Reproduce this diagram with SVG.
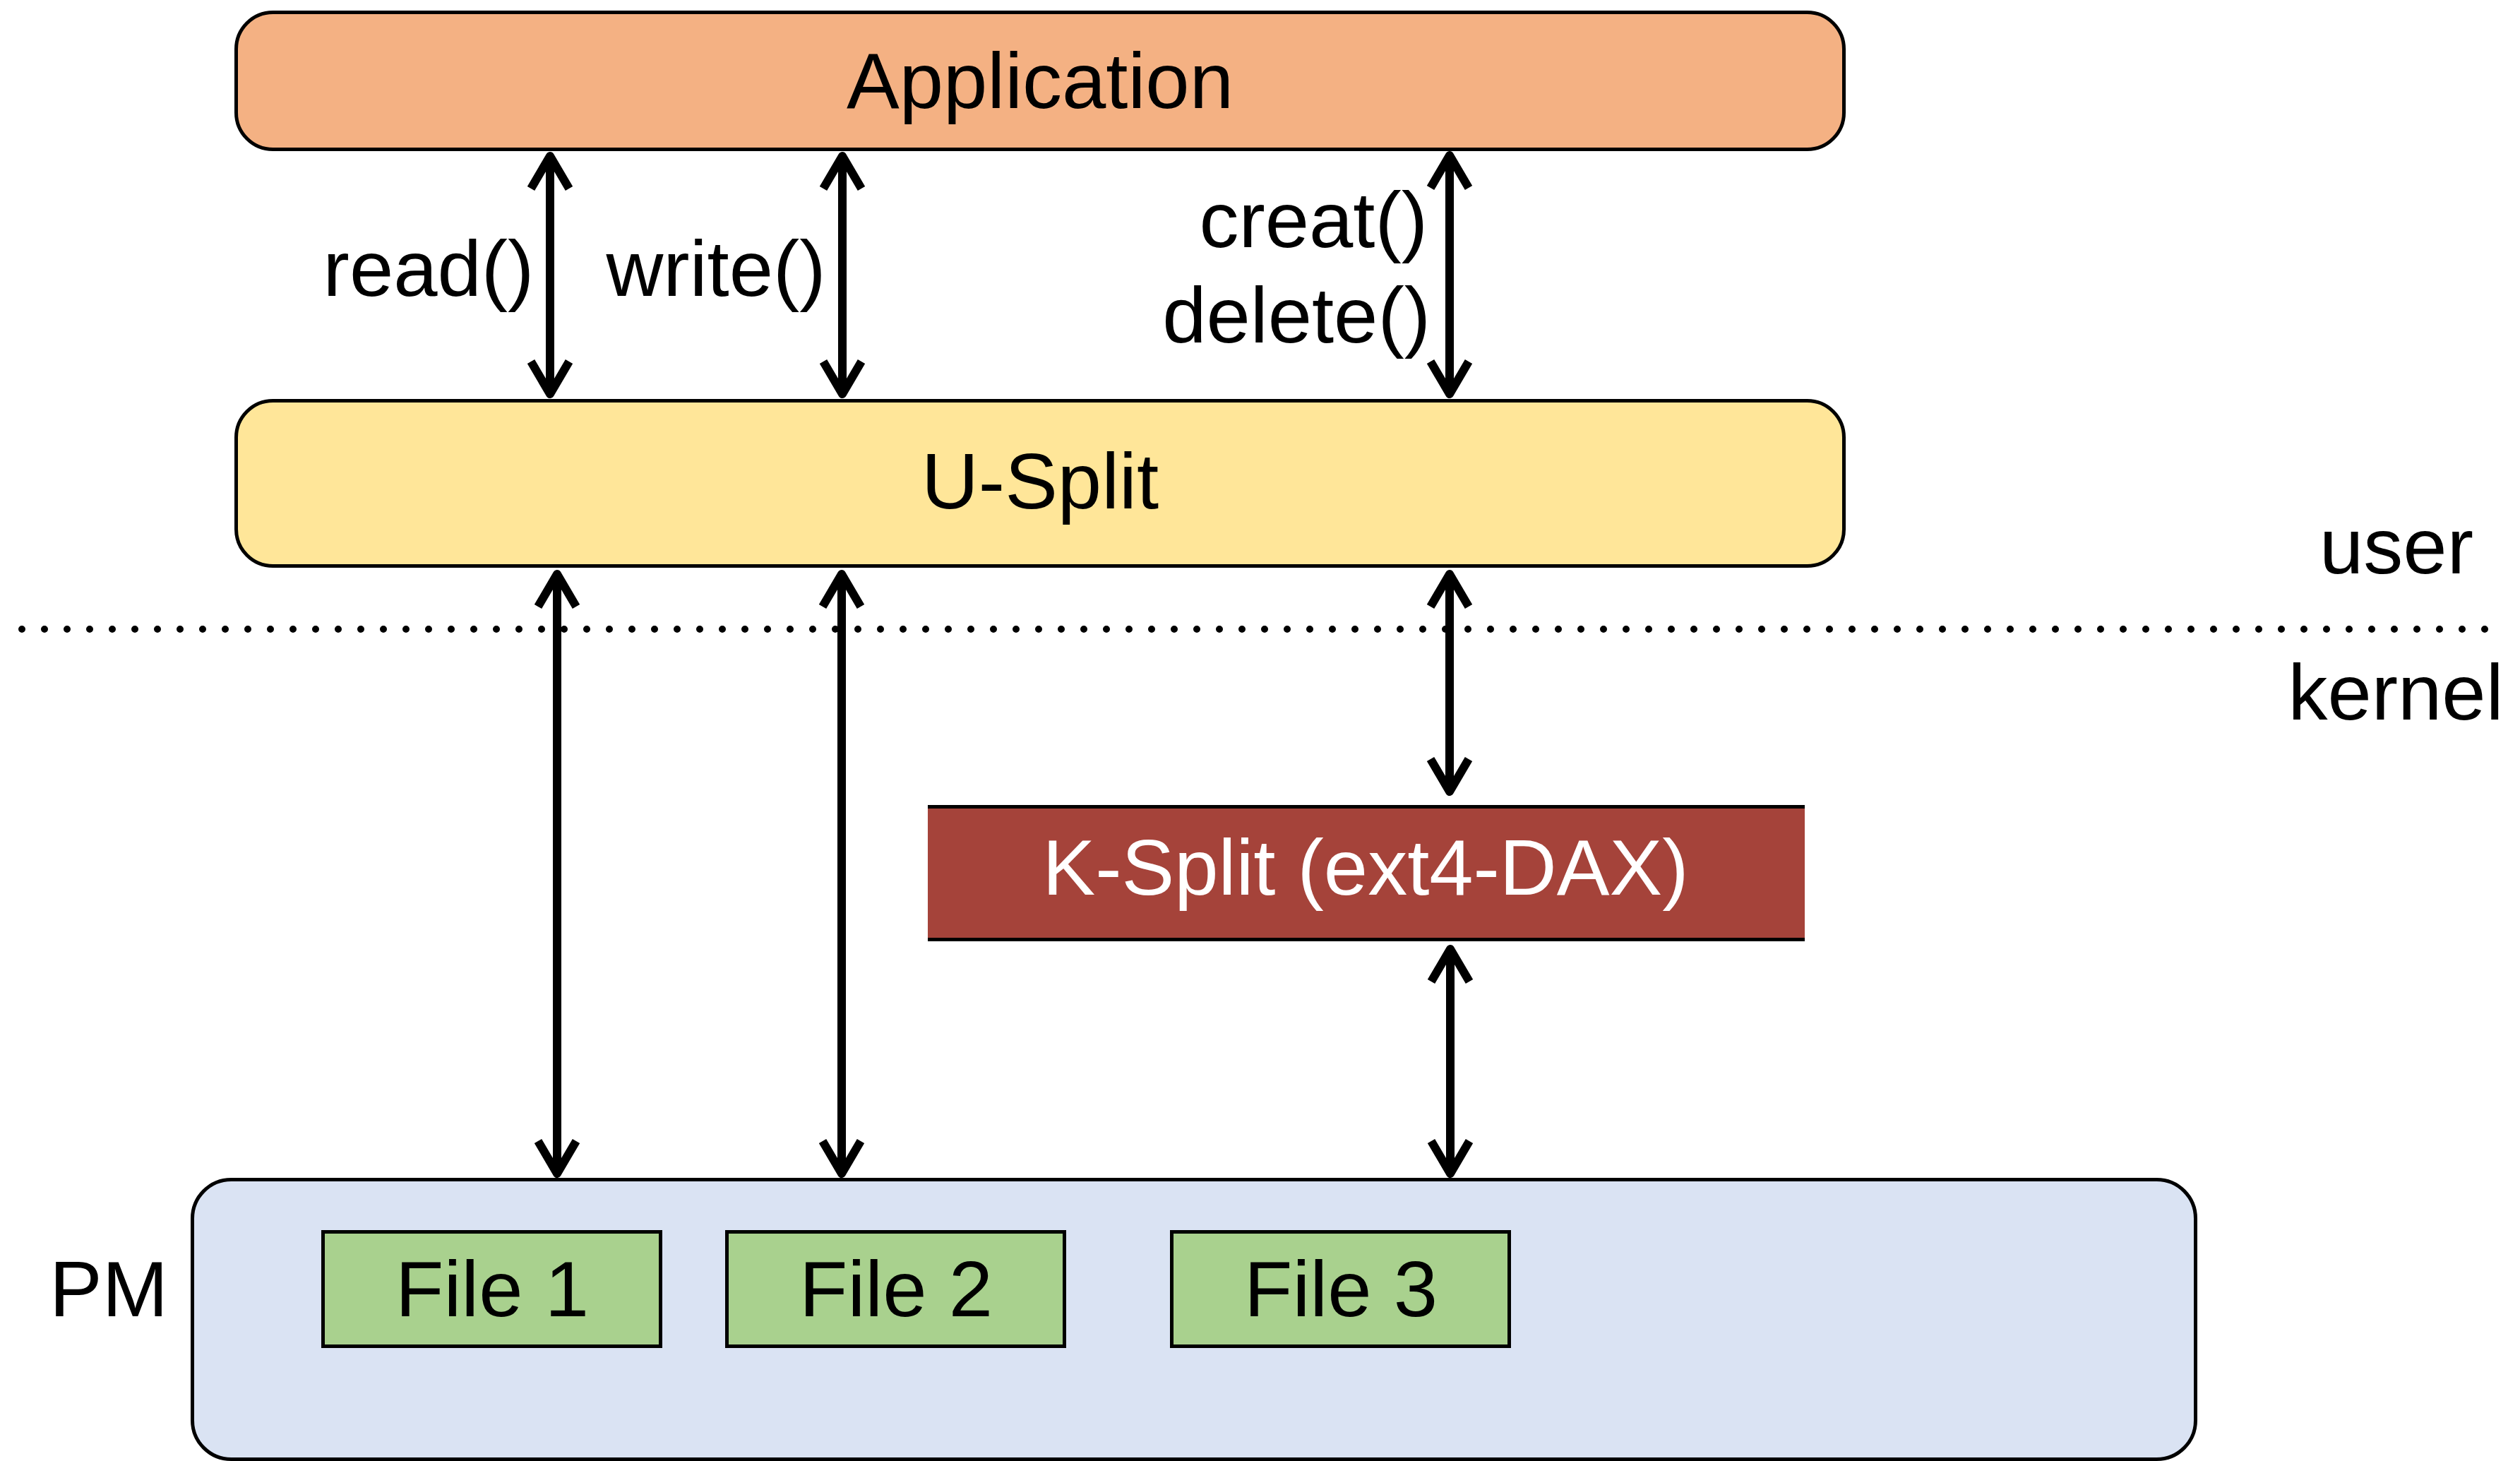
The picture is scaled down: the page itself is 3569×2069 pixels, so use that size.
<svg xmlns="http://www.w3.org/2000/svg" width="3569" height="2069" viewBox="0 0 3569 2069">
<style>
text{font-family:"Liberation Sans",Arial,Helvetica,sans-serif;font-size:112px;fill:#000}
.box{stroke:#000;stroke-width:5}
.conn{stroke:#000;stroke-width:12;fill:none;marker-start:url(#ah);marker-end:url(#ah)}
.white{fill:#fff}
</style>
<defs>
<marker id="ah" markerUnits="userSpaceOnUse" orient="auto-start-reverse" markerWidth="100" markerHeight="100" viewBox="-60 -50 100 100" refX="0" refY="0" overflow="visible">
<path d="M-46,-27 L0,0 L-46,27" fill="none" stroke="#000" stroke-width="12" stroke-linejoin="round"/>
</marker>
</defs>
<rect width="3569" height="2069" fill="#fff"/>
<g id="application">
<rect class="box" x="334.5" y="17.5" width="2277" height="194" rx="52" fill="#F4B183"/>
<text x="1473" y="153" text-anchor="middle">Application</text>
</g>
<g id="usplit">
<rect class="box" x="334.5" y="567.5" width="2277" height="234" rx="52" fill="#FFE699"/>
<text x="1473" y="720" text-anchor="middle">U-Split</text>
</g>
<g id="ksplit">
<rect x="1314" y="1142" width="1242" height="189" fill="#A5433A"/>
<line x1="1314" y1="1142.5" x2="2556" y2="1142.5" stroke="#000" stroke-width="5"/>
<line x1="1314" y1="1330.5" x2="2556" y2="1330.5" stroke="#000" stroke-width="5"/>
<text class="white" x="1934" y="1267" text-anchor="middle">K-Split (ext4-DAX)</text>
</g>
<g id="pm">
<rect class="box" x="272.5" y="1670.5" width="2837" height="396" rx="55" fill="#DAE3F3"/>
</g>
<g id="file1">
<rect class="box" x="457.5" y="1744.5" width="478" height="162" fill="#A9D18E"/>
<text x="697" y="1864" text-anchor="middle">File 1</text>
</g>
<g id="file2">
<rect class="box" x="1029.5" y="1744.5" width="478" height="162" fill="#A9D18E"/>
<text x="1269" y="1864" text-anchor="middle">File 2</text>
</g>
<g id="file3">
<rect class="box" x="1659.5" y="1744.5" width="478" height="162" fill="#A9D18E"/>
<text x="1899" y="1864" text-anchor="middle">File 3</text>
</g>
<g id="labels">
<text x="154" y="1864" text-anchor="middle">PM</text>
<text x="3394" y="812" text-anchor="middle">user</text>
<text x="3393" y="1019" text-anchor="middle">kernel</text>
<text x="607" y="419" text-anchor="middle">read()</text>
<text x="1014" y="419" text-anchor="middle">write()</text>
<text x="2022" y="350" text-anchor="end">creat()</text>
<text x="2026" y="485" text-anchor="end">delete()</text>
</g>
<g id="divider">
<line x1="31" y1="891" x2="3521" y2="891" stroke="#000" stroke-width="10" stroke-linecap="round" stroke-dasharray="0 32"/>
</g>
<g id="connectors">
<line class="conn" x1="779" y1="221" x2="779" y2="558"/>
<line class="conn" x1="1193" y1="221" x2="1193" y2="558"/>
<line class="conn" x1="2053" y1="220" x2="2053" y2="558"/>
<line class="conn" x1="789" y1="813" x2="789" y2="1662"/>
<line class="conn" x1="1192" y1="813" x2="1192" y2="1662"/>
<line class="conn" x1="2053" y1="813" x2="2053" y2="1121"/>
<line class="conn" x1="2054" y1="1344" x2="2054" y2="1662"/>
</g>
</svg>
